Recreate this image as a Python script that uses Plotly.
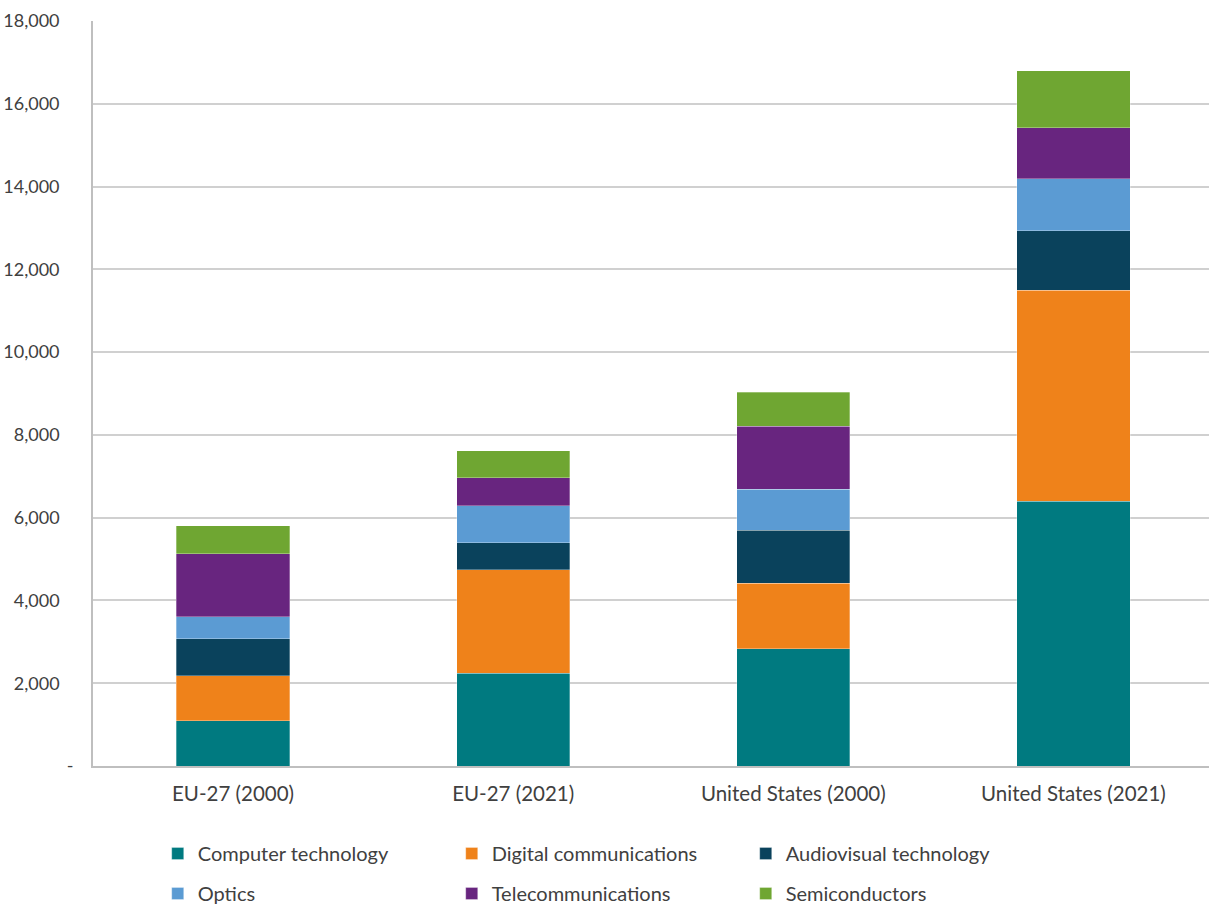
import plotly.graph_objects as go

# categories on the x axis
regions = ["EU-27 (2000)", "EU-27 (2021)", "United States (2000)", "United States (2021)"]

# stacked series
computer_tech = [1090, 2240, 2830, 6400]
digital_comm = [1095, 2500, 1580, 5090]
audiovisual_tech = [890, 660, 1290, 1440]
optics = [530, 890, 990, 1260]
telecom = [1520, 675, 1520, 1230]
semiconductors = [675, 650, 820, 1380]

y_ticks = [0, 2000, 4000, 6000, 8000, 10000, 12000, 14000, 16000, 18000]
y_tick_text = ["-", "2,000", "4,000", "6,000", "8,000", "10,000",
               "12,000", "14,000", "16,000", "18,000"]

series = [
    ("Computer technology", computer_tech, "#007A80", "legend"),
    ("Digital communications", digital_comm, "#EF821A", "legend"),
    ("Audiovisual technology", audiovisual_tech, "#0A425C", "legend"),
    ("Optics", optics, "#5B9BD3", "legend2"),
    ("Telecommunications", telecom, "#68257F", "legend2"),
    ("Semiconductors", semiconductors, "#6FA632", "legend2"),
]

fig = go.Figure()
for name, vals, col, leg in series:
    fig.add_trace(go.Bar(
        x=regions, y=vals, name=name, legend=leg,
        marker=dict(color=col, line=dict(width=0.6, color="rgba(255,255,255,0.5)")),
    ))

# accounting-style labels: numbers padded on the right, the zero dash sits further out
pad = "\u00a0\u00a0\u00a0"
y_labels = [t if t == "-" else t + pad for t in y_tick_text]

txt = "#404040"
legend_common = dict(
    orientation="h", xanchor="left", yanchor="top",
    traceorder="normal",
    entrywidth=249, entrywidthmode="pixels",
    font=dict(size=20, color=txt, family="Lato"),
    bgcolor="rgba(0,0,0,0)", itemclick=False,
)

fig.update_layout(
    barmode="stack",
    bargap=0.596,
    width=1209, height=905,
    margin=dict(l=93, r=0, t=21, b=139, autoexpand=False),
    paper_bgcolor="white", plot_bgcolor="white",
    font=dict(family="Lato", size=20, color=txt),
    showlegend=True,
    legend=dict(x=0.058, y=-0.0913, **legend_common),
    legend2=dict(x=0.058, y=-0.145, **legend_common),
    xaxis=dict(
        range=[-0.5, 3.484], automargin=False,
        showline=True, linecolor="#bfbfbf", linewidth=2,
        showgrid=False, ticks="", ticklabelstandoff=8,
        tickfont=dict(size=20.5, color=txt),
    ),
    yaxis=dict(
        range=[0, 18000], automargin=False,
        tickvals=y_ticks, ticktext=y_labels,
        showgrid=True, gridcolor="#d0d0d0", gridwidth=1.5,
        showline=True, linecolor="#bfbfbf", linewidth=2,
        ticks="", ticklabelstandoff=14,
        tickfont=dict(size=18, color=txt),
        zeroline=False,
    ),
)

# drop the default 8px page margin so the figure fills the window
fig.write_html("out.html", config={"displayModeBar": False},
               post_script="document.body.style.margin = '0';")
